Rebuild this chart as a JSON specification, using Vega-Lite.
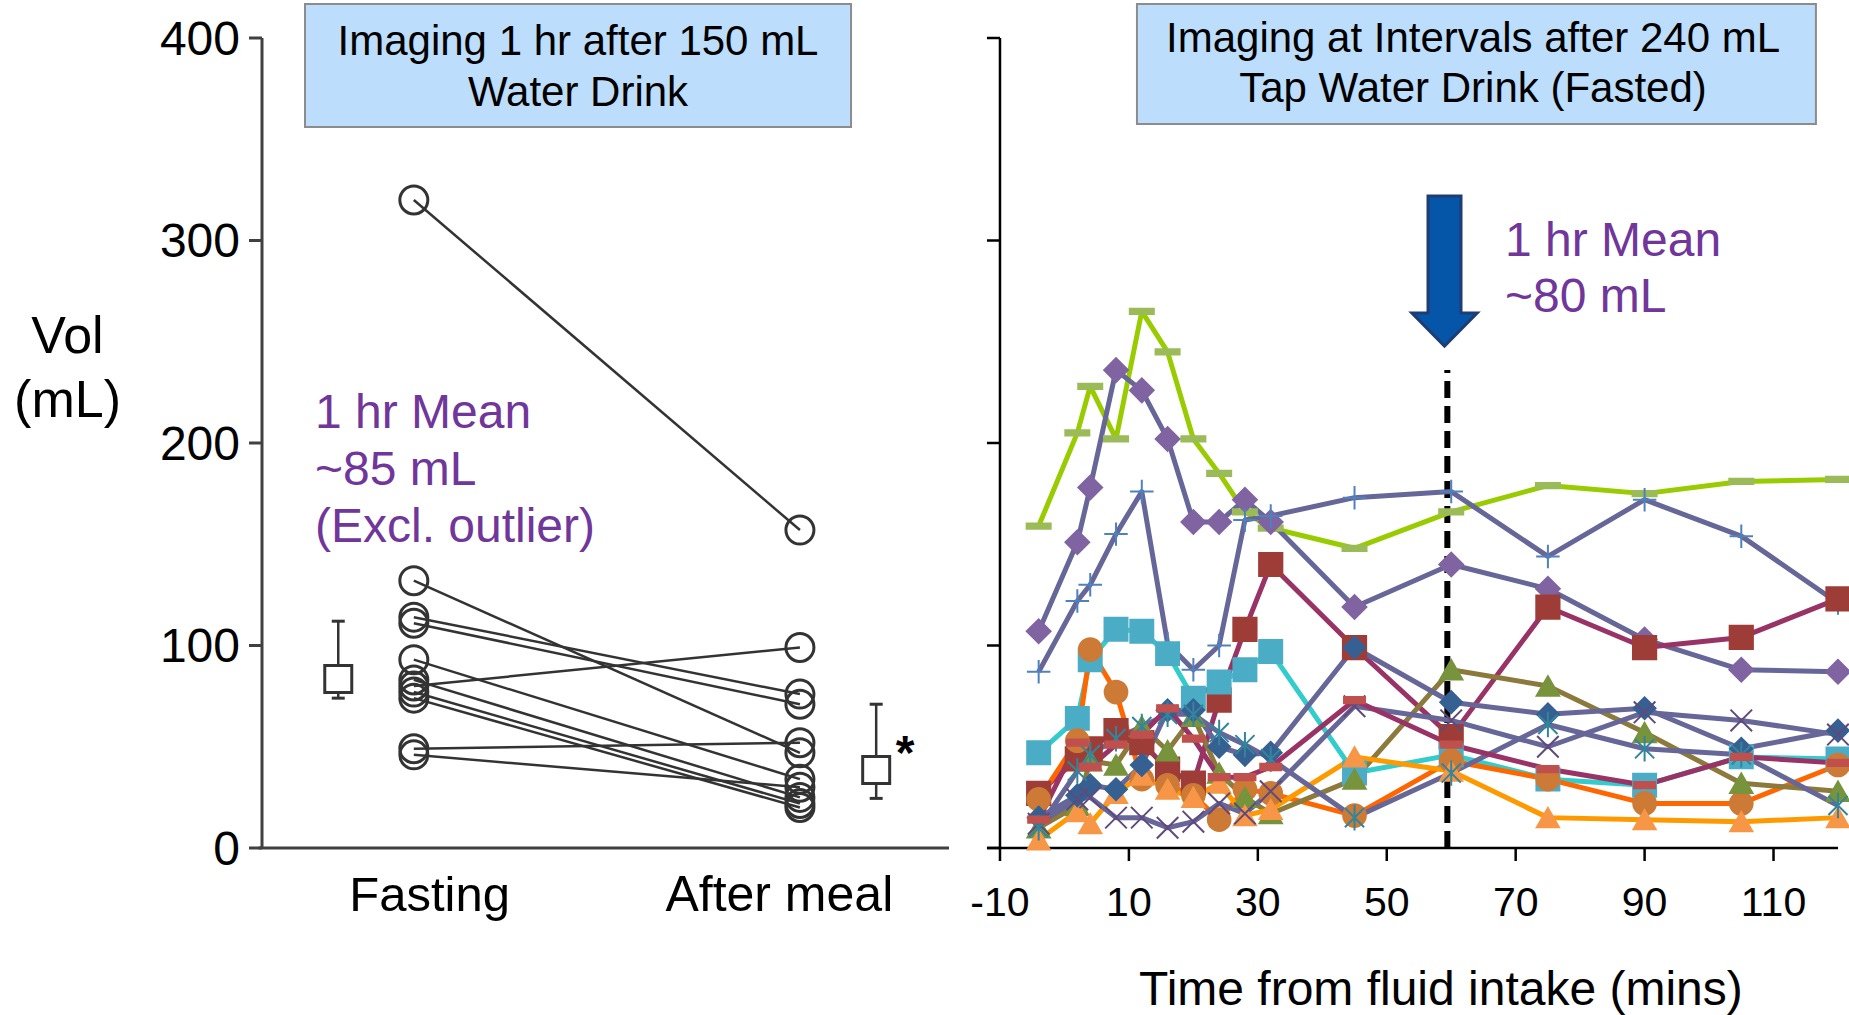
{
  "$schema": "https://vega.github.io/schema/vega-lite/v6.json",
  "width": 1849,
  "height": 1015,
  "autosize": {"type": "none"},
  "padding": 0,
  "background": "white",
  "config": {"view": {"stroke": null}, "axis": {"grid": false}, "font": "Liberation Sans"},
  "datasets": {
    "pairs": [
      {"id": 1, "fasting": 320, "after": 157},
      {"id": 2, "fasting": 132, "after": 47},
      {"id": 3, "fasting": 114, "after": 76},
      {"id": 4, "fasting": 111, "after": 71},
      {"id": 5, "fasting": 93, "after": 34},
      {"id": 6, "fasting": 83, "after": 25},
      {"id": 7, "fasting": 80, "after": 99},
      {"id": 8, "fasting": 77, "after": 22},
      {"id": 9, "fasting": 74, "after": 20},
      {"id": 10, "fasting": 49, "after": 52},
      {"id": 11, "fasting": 46, "after": 30}
    ],
    "summary": [
      {"cond": "Fasting", "mean": 83.5, "lo": 74, "hi": 112},
      {"cond": "After meal", "mean": 38.5, "lo": 24.5, "hi": 71}
    ],
    "one": [{}],
    "yticks": [
      {"value": 0, "label": "0"}, {"value": 100, "label": "100"}, {"value": 200, "label": "200"}, {"value": 300, "label": "300"}, {"value": 400, "label": "400"}
    ],
    "xticks": [
      {"value": -10, "label": "-10"}, {"value": 10, "label": "10"}, {"value": 30, "label": "30"}, {"value": 50, "label": "50"}, {"value": 70, "label": "70"}, {"value": 90, "label": "90"}, {"value": 110, "label": "110"}
    ],
    "series": [
      {"s":"P01","t":-4,"v":159},{"s":"P01","t":2,"v":205},{"s":"P01","t":4,"v":228},{"s":"P01","t":8,"v":202},{"s":"P01","t":12,"v":265},{"s":"P01","t":16,"v":245},{"s":"P01","t":20,"v":202},{"s":"P01","t":24,"v":185},{"s":"P01","t":28,"v":166},{"s":"P01","t":32,"v":158},{"s":"P01","t":45,"v":148},{"s":"P01","t":60,"v":166},{"s":"P01","t":75,"v":179},{"s":"P01","t":90,"v":175},{"s":"P01","t":105,"v":181},{"s":"P01","t":120,"v":182},
      {"s":"P02","t":-4,"v":107},{"s":"P02","t":2,"v":151},{"s":"P02","t":4,"v":178},{"s":"P02","t":8,"v":236},{"s":"P02","t":12,"v":226},{"s":"P02","t":16,"v":202},{"s":"P02","t":20,"v":161},{"s":"P02","t":24,"v":161},{"s":"P02","t":28,"v":172},{"s":"P02","t":32,"v":161},{"s":"P02","t":45,"v":119},{"s":"P02","t":60,"v":140},{"s":"P02","t":75,"v":128},{"s":"P02","t":90,"v":103},{"s":"P02","t":105,"v":88},{"s":"P02","t":120,"v":87},
      {"s":"P03","t":-4,"v":87},{"s":"P03","t":2,"v":122},{"s":"P03","t":4,"v":130},{"s":"P03","t":8,"v":155},{"s":"P03","t":12,"v":176},{"s":"P03","t":16,"v":101},{"s":"P03","t":20,"v":88},{"s":"P03","t":24,"v":100},{"s":"P03","t":28,"v":162},{"s":"P03","t":32,"v":164},{"s":"P03","t":45,"v":173},{"s":"P03","t":60,"v":176},{"s":"P03","t":75,"v":144},{"s":"P03","t":90,"v":172},{"s":"P03","t":105,"v":154},{"s":"P03","t":120,"v":121},
      {"s":"P04","t":-4,"v":27},{"s":"P04","t":2,"v":44},{"s":"P04","t":4,"v":49},{"s":"P04","t":8,"v":58},{"s":"P04","t":12,"v":52},{"s":"P04","t":16,"v":39},{"s":"P04","t":20,"v":32},{"s":"P04","t":24,"v":73},{"s":"P04","t":28,"v":108},{"s":"P04","t":32,"v":140},{"s":"P04","t":45,"v":99},{"s":"P04","t":60,"v":55},{"s":"P04","t":75,"v":119},{"s":"P04","t":90,"v":99},{"s":"P04","t":105,"v":104},{"s":"P04","t":120,"v":123},
      {"s":"P05","t":-4,"v":47},{"s":"P05","t":2,"v":64},{"s":"P05","t":4,"v":93},{"s":"P05","t":8,"v":108},{"s":"P05","t":12,"v":107},{"s":"P05","t":16,"v":96},{"s":"P05","t":20,"v":74},{"s":"P05","t":24,"v":82},{"s":"P05","t":28,"v":88},{"s":"P05","t":32,"v":97},{"s":"P05","t":45,"v":37},{"s":"P05","t":60,"v":46},{"s":"P05","t":75,"v":34},{"s":"P05","t":90,"v":31},{"s":"P05","t":105,"v":45},{"s":"P05","t":120,"v":44},
      {"s":"P06","t":-4,"v":24},{"s":"P06","t":2,"v":53},{"s":"P06","t":4,"v":98},{"s":"P06","t":8,"v":77},{"s":"P06","t":12,"v":34},{"s":"P06","t":16,"v":31},{"s":"P06","t":20,"v":26},{"s":"P06","t":24,"v":14},{"s":"P06","t":28,"v":29},{"s":"P06","t":32,"v":27},{"s":"P06","t":45,"v":16},{"s":"P06","t":60,"v":43},{"s":"P06","t":75,"v":34},{"s":"P06","t":90,"v":22},{"s":"P06","t":105,"v":22},{"s":"P06","t":120,"v":41},
      {"s":"P07","t":-4,"v":10},{"s":"P07","t":2,"v":21},{"s":"P07","t":4,"v":43},{"s":"P07","t":8,"v":41},{"s":"P07","t":12,"v":60},{"s":"P07","t":16,"v":48},{"s":"P07","t":20,"v":65},{"s":"P07","t":24,"v":37},{"s":"P07","t":28,"v":25},{"s":"P07","t":32,"v":17},{"s":"P07","t":45,"v":34},{"s":"P07","t":60,"v":88},{"s":"P07","t":75,"v":80},{"s":"P07","t":90,"v":57},{"s":"P07","t":105,"v":32},{"s":"P07","t":120,"v":28},
      {"s":"P08","t":-4,"v":4},{"s":"P08","t":2,"v":18},{"s":"P08","t":4,"v":12},{"s":"P08","t":8,"v":27},{"s":"P08","t":12,"v":36},{"s":"P08","t":16,"v":29},{"s":"P08","t":20,"v":25},{"s":"P08","t":24,"v":32},{"s":"P08","t":28,"v":16},{"s":"P08","t":32,"v":19},{"s":"P08","t":45,"v":45},{"s":"P08","t":60,"v":38},{"s":"P08","t":75,"v":15},{"s":"P08","t":90,"v":14},{"s":"P08","t":105,"v":13},{"s":"P08","t":120,"v":15},
      {"s":"P09","t":-4,"v":15},{"s":"P09","t":2,"v":26},{"s":"P09","t":4,"v":31},{"s":"P09","t":8,"v":29},{"s":"P09","t":12,"v":41},{"s":"P09","t":16,"v":68},{"s":"P09","t":20,"v":68},{"s":"P09","t":24,"v":50},{"s":"P09","t":28,"v":46},{"s":"P09","t":32,"v":47},{"s":"P09","t":45,"v":99},{"s":"P09","t":60,"v":72},{"s":"P09","t":75,"v":66},{"s":"P09","t":90,"v":69},{"s":"P09","t":105,"v":49},{"s":"P09","t":120,"v":58},
      {"s":"P10","t":-4,"v":12},{"s":"P10","t":2,"v":24},{"s":"P10","t":4,"v":25},{"s":"P10","t":8,"v":15},{"s":"P10","t":12,"v":15},{"s":"P10","t":16,"v":10},{"s":"P10","t":20,"v":13},{"s":"P10","t":24,"v":22},{"s":"P10","t":28,"v":17},{"s":"P10","t":32,"v":28},{"s":"P10","t":45,"v":70},{"s":"P10","t":60,"v":63},{"s":"P10","t":75,"v":50},{"s":"P10","t":90,"v":67},{"s":"P10","t":105,"v":63},{"s":"P10","t":120,"v":56},
      {"s":"P11","t":-4,"v":10},{"s":"P11","t":2,"v":38},{"s":"P11","t":4,"v":46},{"s":"P11","t":8,"v":54},{"s":"P11","t":12,"v":60},{"s":"P11","t":16,"v":66},{"s":"P11","t":20,"v":66},{"s":"P11","t":24,"v":57},{"s":"P11","t":28,"v":51},{"s":"P11","t":32,"v":44},{"s":"P11","t":45,"v":15},{"s":"P11","t":60,"v":37},{"s":"P11","t":75,"v":61},{"s":"P11","t":90,"v":49},{"s":"P11","t":105,"v":46},{"s":"P11","t":120,"v":21},
      {"s":"P12","t":-4,"v":14},{"s":"P12","t":2,"v":52},{"s":"P12","t":4,"v":40},{"s":"P12","t":8,"v":51},{"s":"P12","t":12,"v":56},{"s":"P12","t":16,"v":69},{"s":"P12","t":20,"v":54},{"s":"P12","t":24,"v":35},{"s":"P12","t":28,"v":35},{"s":"P12","t":32,"v":40},{"s":"P12","t":45,"v":73},{"s":"P12","t":60,"v":51},{"s":"P12","t":75,"v":39},{"s":"P12","t":90,"v":31},{"s":"P12","t":105,"v":45},{"s":"P12","t":120,"v":42}
    ]
  },
  "layer": [
    {
      "layer": [
        {
          "data": {"name": "one"},
          "mark": {"type": "rect", "fill": "#BCDDFC", "stroke": "#8C8C8C", "strokeWidth": 2},
          "encoding": {
            "x": {"datum": 0.626, "type": "quantitative", "scale": {"domain": [-3.8137, 23.1004], "nice": false, "zero": false}, "axis": null},
            "x2": {"datum": 8.574},
            "y": {"datum": 356.0, "type": "quantitative", "scale": {"domain": [-82.469, 418.765], "nice": false, "zero": false}, "axis": null},
            "y2": {"datum": 416.8}
          }
        },
        {
          "data": {"name": "one"},
          "mark": {"type": "text", "text": ["Imaging 1 hr after 150 mL", "Water Drink"], "font": "Liberation Sans", "fontSize": 42, "lineHeight": 51, "align": "center", "baseline": "alphabetic", "color": "#000000"},
          "encoding": {
            "x": {"datum": 4.6, "type": "quantitative", "scale": {"domain": [-3.8137, 23.1004], "nice": false, "zero": false}, "axis": null},
            "y": {"datum": 391.6, "type": "quantitative", "scale": {"domain": [-82.469, 418.765], "nice": false, "zero": false}, "axis": null}
          }
        },
        {
          "data": {"name": "one"},
          "mark": {"type": "text", "text": ["1 hr Mean", "~85 mL", "(Excl. outlier)"], "font": "Liberation Sans", "fontSize": 48, "lineHeight": 57, "align": "left", "baseline": "alphabetic", "color": "#70369A"},
          "encoding": {
            "x": {"datum": 0.771, "type": "quantitative", "scale": {"domain": [-3.8137, 23.1004], "nice": false, "zero": false}, "axis": null},
            "y": {"datum": 207.4, "type": "quantitative", "scale": {"domain": [-82.469, 418.765], "nice": false, "zero": false}, "axis": null}
          }
        },
        {
          "data": {"name": "one"},
          "mark": {"type": "text", "text": ["Vol", "(mL)"], "font": "Liberation Sans", "fontSize": 52, "lineHeight": 64, "align": "center", "baseline": "alphabetic", "color": "#000000"},
          "encoding": {
            "x": {"datum": -2.831, "type": "quantitative", "scale": {"domain": [-3.8137, 23.1004], "nice": false, "zero": false}, "axis": null},
            "y": {"datum": 244.6, "type": "quantitative", "scale": {"domain": [-82.469, 418.765], "nice": false, "zero": false}, "axis": null}
          }
        },
        {
          "data": {"name": "one"},
          "mark": {"type": "rule", "color": "#404040", "strokeWidth": 3},
          "encoding": {
            "x": {"datum": 0, "type": "quantitative", "scale": {"domain": [-3.8137, 23.1004], "nice": false, "zero": false}, "axis": null},
            "y": {"datum": 0, "type": "quantitative", "scale": {"domain": [-82.469, 418.765], "nice": false, "zero": false}, "axis": null},
            "y2": {"datum": 400}
          }
        },
        {
          "data": {"name": "one"},
          "mark": {"type": "rule", "color": "#404040", "strokeWidth": 3},
          "encoding": {
            "x": {"datum": -0.05, "type": "quantitative", "scale": {"domain": [-3.8137, 23.1004], "nice": false, "zero": false}, "axis": null},
            "x2": {"datum": 10},
            "y": {"datum": 0, "type": "quantitative", "scale": {"domain": [-82.469, 418.765], "nice": false, "zero": false}, "axis": null}
          }
        },
        {
          "data": {"name": "yticks"},
          "mark": {"type": "rule", "color": "#404040", "strokeWidth": 3},
          "encoding": {
            "x": {"datum": -0.1892, "type": "quantitative", "scale": {"domain": [-3.8137, 23.1004], "nice": false, "zero": false}, "axis": null},
            "x2": {"datum": 0},
            "y": {"field": "value", "type": "quantitative", "scale": {"domain": [-82.469, 418.765], "nice": false, "zero": false}, "axis": null}
          }
        },
        {
          "data": {"name": "yticks"},
          "mark": {"type": "text", "font": "Liberation Sans", "fontSize": 48, "align": "right", "baseline": "middle", "dy": 3, "color": "#000000"},
          "encoding": {
            "x": {"datum": -0.3202, "type": "quantitative", "scale": {"domain": [-3.8137, 23.1004], "nice": false, "zero": false}, "axis": null},
            "y": {"field": "value", "type": "quantitative", "scale": {"domain": [-82.469, 418.765], "nice": false, "zero": false}, "axis": null},
            "text": {"field": "label", "type": "nominal"}
          }
        },
        {
          "data": {"name": "one"},
          "mark": {"type": "text", "text": "Fasting", "font": "Liberation Sans", "fontSize": 49, "align": "center", "baseline": "alphabetic", "color": "#000000"},
          "encoding": {
            "x": {"datum": 2.44, "type": "quantitative", "scale": {"domain": [-3.8137, 23.1004], "nice": false, "zero": false}, "axis": null},
            "y": {"datum": -31.1, "type": "quantitative", "scale": {"domain": [-82.469, 418.765], "nice": false, "zero": false}, "axis": null}
          }
        },
        {
          "data": {"name": "one"},
          "mark": {"type": "text", "text": "After meal", "font": "Liberation Sans", "fontSize": 50, "align": "center", "baseline": "alphabetic", "color": "#000000"},
          "encoding": {
            "x": {"datum": 7.53, "type": "quantitative", "scale": {"domain": [-3.8137, 23.1004], "nice": false, "zero": false}, "axis": null},
            "y": {"datum": -31.1, "type": "quantitative", "scale": {"domain": [-82.469, 418.765], "nice": false, "zero": false}, "axis": null}
          }
        },
        {
          "data": {"name": "pairs"},
          "mark": {"type": "rule", "color": "#333333", "strokeWidth": 2.5},
          "encoding": {
            "x": {"datum": 2.21, "type": "quantitative", "scale": {"domain": [-3.8137, 23.1004], "nice": false, "zero": false}, "axis": null},
            "x2": {"datum": 7.83},
            "y": {"field": "fasting", "type": "quantitative", "scale": {"domain": [-82.469, 418.765], "nice": false, "zero": false}, "axis": null},
            "y2": {"field": "after"},
            "detail": {"field": "id"}
          }
        },
        {
          "data": {"name": "pairs"},
          "mark": {"type": "point", "shape": "circle", "size": 784, "filled": false, "stroke": "#333333", "strokeWidth": 3, "opacity": 1},
          "encoding": {
            "x": {"datum": 2.21, "type": "quantitative", "scale": {"domain": [-3.8137, 23.1004], "nice": false, "zero": false}, "axis": null},
            "y": {"field": "fasting", "type": "quantitative", "scale": {"domain": [-82.469, 418.765], "nice": false, "zero": false}, "axis": null}
          }
        },
        {
          "data": {"name": "pairs"},
          "mark": {"type": "point", "shape": "circle", "size": 784, "filled": false, "stroke": "#333333", "strokeWidth": 3, "opacity": 1},
          "encoding": {
            "x": {"datum": 7.83, "type": "quantitative", "scale": {"domain": [-3.8137, 23.1004], "nice": false, "zero": false}, "axis": null},
            "y": {"field": "after", "type": "quantitative", "scale": {"domain": [-82.469, 418.765], "nice": false, "zero": false}, "axis": null}
          }
        },
        {
          "data": {"name": "summary"},
          "transform": [{"filter": "datum.cond == 'Fasting'"}],
          "encoding": {"x": {"datum": 1.11, "type": "quantitative", "scale": {"domain": [-3.8137, 23.1004], "nice": false, "zero": false}, "axis": null}},
          "layer": [
            {"mark": {"type": "rule", "color": "#333333", "strokeWidth": 2.5},
             "encoding": {"y": {"field": "lo", "type": "quantitative", "scale": {"domain": [-82.469, 418.765], "nice": false, "zero": false}, "axis": null}, "y2": {"field": "hi"}}},
            {"mark": {"type": "point", "shape": "stroke", "size": 169, "stroke": "#333333", "strokeWidth": 3, "opacity": 1},
             "encoding": {"y": {"field": "lo", "type": "quantitative", "scale": {"domain": [-82.469, 418.765], "nice": false, "zero": false}, "axis": null}}},
            {"mark": {"type": "point", "shape": "stroke", "size": 169, "stroke": "#333333", "strokeWidth": 3, "opacity": 1},
             "encoding": {"y": {"field": "hi", "type": "quantitative", "scale": {"domain": [-82.469, 418.765], "nice": false, "zero": false}, "axis": null}}},
            {"mark": {"type": "point", "shape": "square", "size": 729, "filled": true, "fill": "#ffffff", "stroke": "#333333", "strokeWidth": 3, "opacity": 1},
             "encoding": {"y": {"field": "mean", "type": "quantitative", "scale": {"domain": [-82.469, 418.765], "nice": false, "zero": false}, "axis": null}}}
          ]
        },
        {
          "data": {"name": "summary"},
          "transform": [{"filter": "datum.cond == 'After meal'"}],
          "encoding": {"x": {"datum": 8.94, "type": "quantitative", "scale": {"domain": [-3.8137, 23.1004], "nice": false, "zero": false}, "axis": null}},
          "layer": [
            {"mark": {"type": "rule", "color": "#333333", "strokeWidth": 2.5},
             "encoding": {"y": {"field": "lo", "type": "quantitative", "scale": {"domain": [-82.469, 418.765], "nice": false, "zero": false}, "axis": null}, "y2": {"field": "hi"}}},
            {"mark": {"type": "point", "shape": "stroke", "size": 169, "stroke": "#333333", "strokeWidth": 3, "opacity": 1},
             "encoding": {"y": {"field": "lo", "type": "quantitative", "scale": {"domain": [-82.469, 418.765], "nice": false, "zero": false}, "axis": null}}},
            {"mark": {"type": "point", "shape": "stroke", "size": 169, "stroke": "#333333", "strokeWidth": 3, "opacity": 1},
             "encoding": {"y": {"field": "hi", "type": "quantitative", "scale": {"domain": [-82.469, 418.765], "nice": false, "zero": false}, "axis": null}}},
            {"mark": {"type": "point", "shape": "square", "size": 729, "filled": true, "fill": "#ffffff", "stroke": "#333333", "strokeWidth": 3, "opacity": 1},
             "encoding": {"y": {"field": "mean", "type": "quantitative", "scale": {"domain": [-82.469, 418.765], "nice": false, "zero": false}, "axis": null}}}
          ]
        },
        {
          "data": {"name": "one"},
          "mark": {"type": "text", "text": "*", "font": "Liberation Sans", "fontSize": 48, "fontWeight": "bold", "align": "center", "baseline": "alphabetic", "color": "#000000"},
          "encoding": {
            "x": {"datum": 9.36, "type": "quantitative", "scale": {"domain": [-3.8137, 23.1004], "nice": false, "zero": false}, "axis": null},
            "y": {"datum": 39, "type": "quantitative", "scale": {"domain": [-82.469, 418.765], "nice": false, "zero": false}, "axis": null}
          }
        }
      ]
    },
    {
      "layer": [
        {
          "data": {"name": "one"},
          "mark": {"type": "rect", "fill": "#BCDDFC", "stroke": "#8C8C8C", "strokeWidth": 2},
          "encoding": {
            "x": {"datum": 11.25, "type": "quantitative", "scale": {"domain": [-165.13, 121.71], "nice": false, "zero": false}, "axis": null},
            "x2": {"datum": 116.58},
            "y": {"datum": 357.5, "type": "quantitative", "scale": {"domain": [-82.469, 418.765], "nice": false, "zero": false}, "axis": null},
            "y2": {"datum": 416.8}
          }
        },
        {
          "data": {"name": "one"},
          "mark": {"type": "text", "text": ["Imaging at Intervals after 240 mL", "Tap Water Drink (Fasted)"], "font": "Liberation Sans", "fontSize": 42, "lineHeight": 50, "align": "center", "baseline": "alphabetic", "color": "#000000"},
          "encoding": {
            "x": {"datum": 63.38, "type": "quantitative", "scale": {"domain": [-165.13, 121.71], "nice": false, "zero": false}, "axis": null},
            "y": {"datum": 393.1, "type": "quantitative", "scale": {"domain": [-82.469, 418.765], "nice": false, "zero": false}, "axis": null}
          }
        },
        {
          "data": {"name": "one"},
          "mark": {"type": "text", "text": ["1 hr Mean", "~80 mL"], "font": "Liberation Sans", "fontSize": 48, "lineHeight": 56, "align": "left", "baseline": "alphabetic", "color": "#70369A"},
          "encoding": {
            "x": {"datum": 68.34, "type": "quantitative", "scale": {"domain": [-165.13, 121.71], "nice": false, "zero": false}, "axis": null},
            "y": {"datum": 292.3, "type": "quantitative", "scale": {"domain": [-82.469, 418.765], "nice": false, "zero": false}, "axis": null}
          }
        },
        {
          "data": {"name": "one"},
          "mark": {"type": "rule", "color": "#000000", "strokeWidth": 2.5},
          "encoding": {
            "x": {"datum": -10, "type": "quantitative", "scale": {"domain": [-165.13, 121.71], "nice": false, "zero": false}, "axis": null},
            "y": {"datum": 0, "type": "quantitative", "scale": {"domain": [-82.469, 418.765], "nice": false, "zero": false}, "axis": null},
            "y2": {"datum": 400}
          }
        },
        {
          "data": {"name": "one"},
          "mark": {"type": "rule", "color": "#000000", "strokeWidth": 2.5},
          "encoding": {
            "x": {"datum": -12.02, "type": "quantitative", "scale": {"domain": [-165.13, 121.71], "nice": false, "zero": false}, "axis": null},
            "x2": {"datum": 120},
            "y": {"datum": 0, "type": "quantitative", "scale": {"domain": [-82.469, 418.765], "nice": false, "zero": false}, "axis": null}
          }
        },
        {
          "data": {"name": "yticks"},
          "mark": {"type": "rule", "color": "#000000", "strokeWidth": 2.5},
          "encoding": {
            "x": {"datum": -12.02, "type": "quantitative", "scale": {"domain": [-165.13, 121.71], "nice": false, "zero": false}, "axis": null},
            "x2": {"datum": -10},
            "y": {"field": "value", "type": "quantitative", "scale": {"domain": [-82.469, 418.765], "nice": false, "zero": false}, "axis": null}
          }
        },
        {
          "data": {"name": "xticks"},
          "mark": {"type": "rule", "color": "#000000", "strokeWidth": 2.5},
          "encoding": {
            "x": {"field": "value", "type": "quantitative", "scale": {"domain": [-165.13, 121.71], "nice": false, "zero": false}, "axis": null},
            "y": {"datum": -6.42, "type": "quantitative", "scale": {"domain": [-82.469, 418.765], "nice": false, "zero": false}, "axis": null},
            "y2": {"datum": 0}
          }
        },
        {
          "data": {"name": "xticks"},
          "mark": {"type": "text", "font": "Liberation Sans", "fontSize": 41, "align": "center", "baseline": "alphabetic", "color": "#000000"},
          "encoding": {
            "x": {"field": "value", "type": "quantitative", "scale": {"domain": [-165.13, 121.71], "nice": false, "zero": false}, "axis": null},
            "y": {"datum": -33.6, "type": "quantitative", "scale": {"domain": [-82.469, 418.765], "nice": false, "zero": false}, "axis": null},
            "text": {"field": "label", "type": "nominal"}
          }
        },
        {
          "data": {"name": "one"},
          "mark": {"type": "text", "text": "Time from fluid intake (mins)", "font": "Liberation Sans", "fontSize": 48, "align": "center", "baseline": "alphabetic", "color": "#000000"},
          "encoding": {
            "x": {"datum": 58.41, "type": "quantitative", "scale": {"domain": [-165.13, 121.71], "nice": false, "zero": false}, "axis": null},
            "y": {"datum": -77.5, "type": "quantitative", "scale": {"domain": [-82.469, 418.765], "nice": false, "zero": false}, "axis": null}
          }
        },
        {
          "data": {"name": "one"},
          "mark": {"type": "rule", "color": "#000000", "strokeWidth": 6, "strokeDash": [17, 8]},
          "encoding": {
            "x": {"datum": 59.4, "type": "quantitative", "scale": {"domain": [-165.13, 121.71], "nice": false, "zero": false}, "axis": null},
            "y": {"datum": 0, "type": "quantitative", "scale": {"domain": [-82.469, 418.765], "nice": false, "zero": false}, "axis": null},
            "y2": {"datum": 236}
          }
        },
        {
          "data": {"name": "one"},
          "mark": {"type": "point", "shape": "M-0.505,-2.297L0.505,-2.297L0.505,1.286L1,1.286L0,2.297L-1,1.286L-0.505,1.286Z", "size": 4264, "filled": true, "fill": "#0556A8", "stroke": "#1F3C74", "strokeWidth": 3, "opacity": 1},
          "encoding": {
            "x": {"datum": 58.96, "type": "quantitative", "scale": {"domain": [-165.13, 121.71], "nice": false, "zero": false}, "axis": null},
            "y": {"datum": 284.9, "type": "quantitative", "scale": {"domain": [-82.469, 418.765], "nice": false, "zero": false}, "axis": null}
          }
        },
        {
          "data": {"name": "series"},
          "mark": {"type": "line", "strokeWidth": 5, "strokeJoin": "round"},
          "encoding": {
            "x": {"field": "t", "type": "quantitative", "scale": {"domain": [-165.13, 121.71], "nice": false, "zero": false}, "axis": null},
            "y": {"field": "v", "type": "quantitative", "scale": {"domain": [-82.469, 418.765], "nice": false, "zero": false}, "axis": null},
            "color": {"field": "s", "type": "nominal", "legend": null,
              "scale": {"domain": ["P01","P02","P03","P04","P05","P06","P07","P08","P09","P10","P11","P12"],
                        "range": ["#99CC00","#666699","#666699","#993366","#33CCCC","#FF6600","#8C7A3C","#FF9900","#666699","#666699","#666699","#993366"]}}
          }
        },
        {
          "data": {"name": "series"},
          "mark": {"type": "point", "filled": true, "strokeWidth": 2, "opacity": 1},
          "encoding": {
            "x": {"field": "t", "type": "quantitative", "scale": {"domain": [-165.13, 121.71], "nice": false, "zero": false}, "axis": null},
            "y": {"field": "v", "type": "quantitative", "scale": {"domain": [-82.469, 418.765], "nice": false, "zero": false}, "axis": null},
            "shape": {"field": "s", "type": "nominal", "legend": null,
              "scale": {"domain": ["P01","P02","P03","P04","P05","P06","P07","P08","P09","P10","P11","P12"],
                        "range": ["M-1,-0.22L1,-0.22L1,0.22L-1,0.22Z","diamond","M-1,0L1,0M0,-1L0,1","square","square","circle","triangle-up","triangle-up","diamond","M-1,-1L1,1M-1,1L1,-1","M-0.9,-0.9L0.9,0.9M-0.9,0.9L0.9,-0.9M0,-1.2L0,1.2","M-1,-0.3L1,-0.3L1,0.3L-1,0.3Z"]}},
            "size": {"field": "s", "type": "nominal", "legend": null,
              "scale": {"domain": ["P01","P02","P03","P04","P05","P06","P07","P08","P09","P10","P11","P12"],
                        "range": [576, 440, 380, 300, 300, 300, 380, 380, 440, 260, 260, 150]}},
            "fill": {"field": "s", "type": "nominal", "legend": null,
              "scale": {"domain": ["P01","P02","P03","P04","P05","P06","P07","P08","P09","P10","P11","P12"],
                        "range": ["#9BBB59","#8064A2","#4F81BD","#9E3D38","#4BACC6","#CC7A36","#77933C","#F79646","#366092","#604A7B","#31859C","#C0504D"]}},
            "stroke": {"field": "s", "type": "nominal", "legend": null,
              "scale": {"domain": ["P01","P02","P03","P04","P05","P06","P07","P08","P09","P10","P11","P12"],
                        "range": ["#9BBB59","#8064A2","#4F81BD","#9E3D38","#4BACC6","#CC7A36","#77933C","#F79646","#366092","#604A7B","#31859C","#C0504D"]}}
          }
        }
      ]
    }
  ],
  "resolve": {"scale": {"x": "independent", "y": "independent"}}
}
